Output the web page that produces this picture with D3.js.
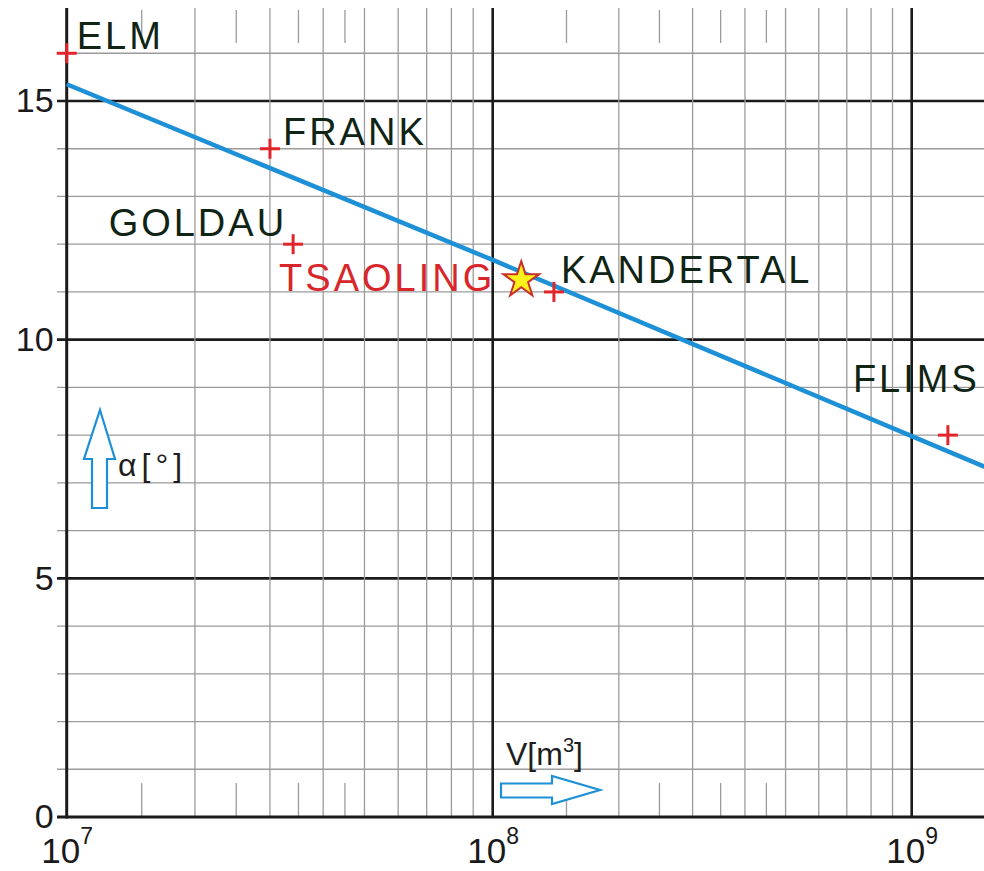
<!DOCTYPE html>
<html>
<head>
<meta charset="utf-8">
<script src="https://cdn.jsdelivr.net/npm/d3@7"></script>
<style>
  html, body { margin: 0; padding: 0; background: #fff; }
  svg { display: block; font-family: "Liberation Sans", Arial, Helvetica, sans-serif; }
</style>
</head>
<body>
<svg id="chart" width="984" height="871"></svg>
<script>
// Rock avalanches: volume V [m³] against angle of reach α [°]
const sites = ["ELM", "FRANK", "GOLDAU", "KANDERTAL", "FLIMS"];
const siteVolume = [1.0e7, 3.0e7, 3.4e7, 1.4e8, 1.22e9];
const siteAngle = [16, 14, 12, 11, 8];

const highlightName = "TSAOLING";
const highlightVolume = 1.17e8;
const highlightAngle = 11.25;

// Fitted trend, read at each decade and at the right edge
const fitVolume = [1e7, 1e8, 1e9, 1.5e9];
const fitAngle = [15.35, 11.67, 7.98, 7.33];

const yTickValues = [0, 5, 10, 15];
const xTickValues = [1e7, 1e8, 1e9];
const xTickExponents = ["7", "8", "9"];

// ---- layout ----
const W = 984, H = 871;
const plotTop = 8, plotBottom = 817, plotLeft = 66.7, plotRight = W;
const tickLeft = 57;

// one segment per decade
const x = d3.scaleLog().domain([1e7, 1e8, 1e9]).range([plotLeft, 492.7, 911.7]);
const y = d3.scaleLinear().domain([0, 15]).range([plotBottom, 101]);

const svg = d3.select("#chart");

const gridMinor = "#9b9b9b", gridMajor = "#1b1b1b";
const nameColor = "#0f2414", red = "#e0262a", blue = "#1e90d6";

// ---- grid ----
const grid = svg.append("g");

// horizontal lines, one per degree
const yLines = d3.range(1, 17);
grid.selectAll("line.h").data(yLines).join("line")
  .attr("x1", tickLeft).attr("x2", plotRight)
  .attr("y1", d => y(d)).attr("y2", d => y(d))
  .attr("stroke", d => d % 5 === 0 ? gridMajor : gridMinor)
  .attr("stroke-width", d => d % 5 === 0 ? 2.6 : 1.3);

// vertical lines at 2..9 of each decade and at the decades
const decades = [1e7, 1e8, 1e9];
const xMinor = [];
decades.forEach(d => { for (let k = 2; k <= 9; k++) xMinor.push(k * d); });
const xMinorVisible = xMinor.filter(v => x(v) <= plotRight);
grid.selectAll("line.v").data(xMinorVisible).join("line")
  .attr("x1", d => x(d)).attr("x2", d => x(d))
  .attr("y1", plotTop).attr("y2", plotBottom)
  .attr("stroke", gridMinor).attr("stroke-width", 1.3);

grid.selectAll("line.vmaj").data(decades.slice(1)).join("line")
  .attr("x1", d => x(d)).attr("x2", d => x(d))
  .attr("y1", plotTop).attr("y2", plotBottom)
  .attr("stroke", gridMajor).attr("stroke-width", 2.6);

// short half-step ticks at 1.5, 2.5, 3.5, 4.5 of each decade, top and bottom
const halfSteps = [];
decades.forEach(d => [1.5, 2.5, 3.5, 4.5].forEach(k => halfSteps.push(k * d)));
const halfVisible = halfSteps.filter(v => x(v) <= plotRight);
grid.selectAll("line.hb").data(halfVisible).join("line")
  .attr("x1", d => x(d)).attr("x2", d => x(d))
  .attr("y1", plotBottom - 34).attr("y2", plotBottom)
  .attr("stroke", gridMinor).attr("stroke-width", 1.3);
grid.selectAll("line.ht").data(halfVisible).join("line")
  .attr("x1", d => x(d)).attr("x2", d => x(d))
  .attr("y1", plotTop + 2).attr("y2", plotTop + 35)
  .attr("stroke", gridMinor).attr("stroke-width", 1.3);

// frame: left and bottom axis lines
svg.append("line")
  .attr("x1", plotLeft).attr("x2", plotLeft)
  .attr("y1", plotTop).attr("y2", plotBottom + 1.5)
  .attr("stroke", gridMajor).attr("stroke-width", 3);
svg.append("line")
  .attr("x1", tickLeft).attr("x2", plotRight)
  .attr("y1", plotBottom).attr("y2", plotBottom)
  .attr("stroke", gridMajor).attr("stroke-width", 3);

// ---- axes (labels only) ----
const yAxis = svg.append("g")
  .attr("transform", `translate(${plotLeft},0)`)
  .call(d3.axisLeft(y).tickValues(yTickValues).tickSize(0).tickPadding(13).tickFormat(d3.format("d")));
yAxis.select(".domain").remove();
yAxis.selectAll("text")
  .attr("font-size", 34).attr("fill", "#1a1a1a")
  .attr("font-family", "Liberation Sans, Arial, sans-serif");

const xAxis = svg.append("g")
  .attr("transform", `translate(0,${plotBottom})`)
  .call(d3.axisBottom(x).tickValues(xTickValues).tickSize(0).tickFormat(() => ""));
xAxis.select(".domain").remove();
xAxis.selectAll("text").each(function(d, i) {
  const t = d3.select(this)
    .attr("y", 46).attr("dy", 0)
    .attr("text-anchor", "middle")
    .attr("fill", "#1a1a1a")
    .attr("font-family", "Liberation Sans, Arial, sans-serif");
  t.text(null);
  t.append("tspan").attr("font-size", 35).text("10");
  t.append("tspan").attr("font-size", 23).attr("dy", -19).text(xTickExponents[i]);
});

// ---- trend line ----
const fit = fitVolume.map((v, i) => [v, fitAngle[i]]);
svg.append("path")
  .datum(fit)
  .attr("fill", "none")
  .attr("stroke", blue)
  .attr("stroke-width", 4.5)
  .attr("stroke-linecap", "butt")
  .attr("d", d3.line().x(d => x(d[0])).y(d => y(d[1])));

// ---- site markers ----
const siteData = sites.map((n, i) => ({ name: n, v: siteVolume[i], a: siteAngle[i] }));
const arm = 10;
const marks = svg.append("g").selectAll("g").data(siteData).join("g")
  .attr("transform", d => `translate(${x(d.v)},${y(d.a)})`);
marks.append("line").attr("x1", -arm).attr("x2", arm).attr("y1", 0).attr("y2", 0)
  .attr("stroke", red).attr("stroke-width", 3);
marks.append("line").attr("x1", 0).attr("x2", 0).attr("y1", -arm).attr("y2", arm)
  .attr("stroke", red).attr("stroke-width", 3);

// label placement for each site, relative to its marker
const labelOffset = {
  ELM:       { dx: 10,  dy: -4,  anchor: "start" },
  FRANK:     { dx: 13,  dy: -4,  anchor: "start" },
  GOLDAU:    { dx: -6,  dy: -8,  anchor: "end" },
  KANDERTAL: { dx: 7,   dy: -9,  anchor: "start" },
  FLIMS:     { dx: -95, dy: -43, anchor: "start" }
};
svg.append("g").selectAll("text").data(siteData).join("text")
  .attr("x", d => x(d.v) + labelOffset[d.name].dx)
  .attr("y", d => y(d.a) + labelOffset[d.name].dy)
  .attr("text-anchor", d => labelOffset[d.name].anchor)
  .attr("font-size", 38)
  .attr("letter-spacing", 3)
  .attr("fill", nameColor)
  .text(d => d.name);

// ---- highlighted site ----
const hx = x(highlightVolume), hy = y(highlightAngle);
svg.append("text")
  .attr("x", hx - 26).attr("y", hy + 11)
  .attr("text-anchor", "end")
  .attr("font-size", 38)
  .attr("letter-spacing", 3)
  .attr("fill", "#d8262a")
  .text(highlightName);
svg.append("path")
  .attr("transform", `translate(${hx},${hy})`)
  .attr("d", d3.symbol(d3.symbolStar, 400)())
  .attr("fill", "#fff21a")
  .attr("stroke", "#c8302a")
  .attr("stroke-width", 2)
  .attr("stroke-linejoin", "miter");

// ---- axis name arrows ----
// vertical: α[°]
svg.append("path")
  .attr("d", "M100,410 L115,459 L107,459 L107,508 L92,508 L92,459 L84,459 Z")
  .attr("fill", "#fff").attr("stroke", blue).attr("stroke-width", 2.2)
  .attr("stroke-linejoin", "miter");
svg.append("text")
  .attr("x", 118).attr("y", 476)
  .attr("font-size", 32).attr("letter-spacing", 5).attr("fill", "#1e1e1e")
  .text("α[°]");

// horizontal: V[m³]
svg.append("path")
  .attr("d", "M501,783.5 L552,783.5 L552,776 L600,790 L552,804 L552,797.5 L501,797.5 Z")
  .attr("fill", "#fff").attr("stroke", blue).attr("stroke-width", 2.2)
  .attr("stroke-linejoin", "miter");
const vLabel = svg.append("text")
  .attr("x", 506).attr("y", 765)
  .attr("font-size", 32).attr("fill", "#1e1e1e");
vLabel.append("tspan").text("V[m");
vLabel.append("tspan").attr("font-size", 20).attr("dy", -13).text("3");
vLabel.append("tspan").attr("dy", 13).text("]");
</script>
</body>
</html>
